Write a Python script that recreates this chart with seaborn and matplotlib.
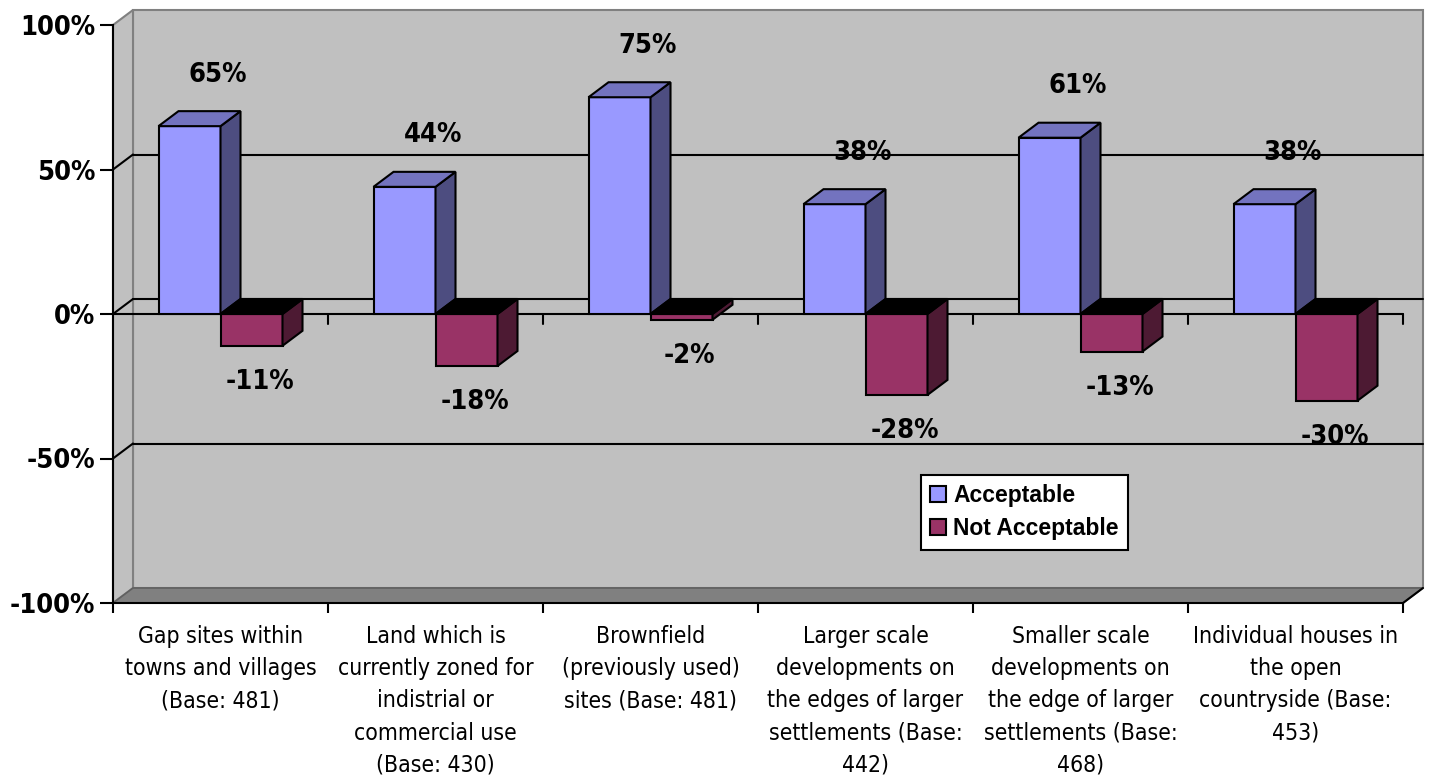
import matplotlib
matplotlib.use("Agg")
import matplotlib.pyplot as plt
from matplotlib.patches import Polygon, Patch
import seaborn as sns
import pandas as pd

categories = [
    "Gap sites within\ntowns and villages\n(Base: 481)",
    "Land which is\ncurrently zoned for\nindistrial or\ncommercial use\n(Base: 430)",
    "Brownfield\n(previously used)\nsites (Base: 481)",
    "Larger scale\ndevelopments on\nthe edges of larger\nsettlements (Base:\n442)",
    "Smaller scale\ndevelopments on\nthe edge of larger\nsettlements (Base:\n468)",
    "Individual houses in\nthe open\ncountryside (Base:\n453)",
]
acceptable = [65, 44, 75, 38, 61, 38]
not_acceptable = [-11, -18, -2, -28, -13, -30]
series_names = ["Acceptable", "Not Acceptable"]
y_ticks = [-100, -50, 0, 50, 100]

front = {"Acceptable": "#9999ff", "Not Acceptable": "#993366"}
top_col = {"Acceptable": "#7373bf", "Not Acceptable": "#000000"}
side_col = {"Acceptable": "#4d4d80", "Not Acceptable": "#4d1a33"}

df = pd.DataFrame({
    "category": categories * 2,
    "value": acceptable + not_acceptable,
    "series": [series_names[0]] * 6 + [series_names[1]] * 6,
})

sns.set_style("white")
plt.rcParams["font.family"] = ["DejaVu Sans"]
plt.rcParams["font.stretch"] = "condensed"
plt.rcParams["text.color"] = "black"
plt.rcParams["xtick.color"] = "black"
plt.rcParams["ytick.color"] = "black"
plt.rcParams["xtick.labelcolor"] = "black"
plt.rcParams["ytick.labelcolor"] = "black"

W, H = 1430, 782
fig = plt.figure(figsize=(W / 100, H / 100), dpi=100)
ax = fig.add_axes([113 / W, 1 - 603 / H, (1403 - 113) / W, (603 - 25) / H])
ax.set_facecolor("none")
ax.set_xlim(-0.5, 5.5)
ax.set_ylim(-100, 100)

# depth offset of the 3-D box (20 px right, 15 px up)
dx = 20 / 215
dy = 15 * 200 / 578
x0, x1 = -0.5, 5.5

wall_c, edge_c = "#c0c0c0", "#808080"
# back wall
ax.add_patch(Polygon([(x0 + dx, -100 + dy), (x1 + dx, -100 + dy), (x1 + dx, 100 + dy), (x0 + dx, 100 + dy)],
                     closed=True, facecolor=wall_c, edgecolor=edge_c, lw=1.5, zorder=0, clip_on=False))
# left side wall
ax.add_patch(Polygon([(x0, -100), (x0 + dx, -100 + dy), (x0 + dx, 100 + dy), (x0, 100)],
                     closed=True, facecolor=wall_c, edgecolor=edge_c, lw=1.5, zorder=0.1, clip_on=False))
# floor
ax.add_patch(Polygon([(x0, -100), (x1, -100), (x1 + dx, -100 + dy), (x0 + dx, -100 + dy)],
                     closed=True, facecolor="#808080", edgecolor="#606060", lw=1.2, zorder=0.2, clip_on=False))
ax.plot([x1, x1 + dx], [-100, -100 + dy], color="black", lw=1.5, zorder=0.3, clip_on=False)

# gridlines on back and side walls
for g in (-50, 0, 50):
    ax.plot([x0 + dx, x1 + dx], [g + dy, g + dy], color="black", lw=1.5, zorder=0.5, clip_on=False)
    ax.plot([x0, x0 + dx], [g, g + dy], color="black", lw=1.5, zorder=0.5, clip_on=False)

# category axis at zero on the front plane
ax.plot([x0, x1], [0, 0], color="black", lw=1.5, zorder=0.8, clip_on=False)
for b in range(1, 7):
    ax.plot([b - 0.5, b - 0.5], [0, -3.5], color="black", lw=1.5, zorder=0.8, clip_on=False)

sns.barplot(data=df, x="category", y="value", hue="series", order=categories,
            hue_order=series_names, palette=[front[s] for s in series_names],
            width=124 / 215, saturation=1, edgecolor="black", linewidth=1.5,
            legend=False, ax=ax, zorder=2)

bars = [p for p in ax.patches if p.get_zorder() == 2 and p.get_width() < 1]
for p in bars:
    bx0 = p.get_x()
    bx1 = bx0 + p.get_width()
    v = p.get_y() + p.get_height()
    fc = matplotlib.colors.to_hex(p.get_facecolor())
    name = "Acceptable" if fc == front["Acceptable"] else "Not Acceptable"
    lo, hi = min(0, v), max(0, v)
    ax.add_patch(Polygon([(bx1, lo), (bx1 + dx, lo + dy), (bx1 + dx, hi + dy), (bx1, hi)], closed=True,
                         facecolor=side_col[name], edgecolor="black", lw=1.5, zorder=2, clip_on=False))
    ax.add_patch(Polygon([(bx0, hi), (bx0 + dx, hi + dy), (bx1 + dx, hi + dy), (bx1, hi)], closed=True,
                         facecolor=top_col[name], edgecolor="black", lw=1.5, zorder=2, clip_on=False))
    if name == "Acceptable":
        ax.annotate(f"{v:.0f}%", (bx1, v), xytext=(-2, 37), textcoords="offset points",
                    ha="center", va="center", fontsize=19.5, fontweight="bold", zorder=5)
    else:
        ax.annotate(f"{v:.0f}%", ((bx0 + bx1) / 2, v), xytext=(6, -26), textcoords="offset points",
                    ha="center", va="center", fontsize=19.5, fontweight="bold", zorder=5)

# axes frame
for s in ("top", "right"):
    ax.spines[s].set_visible(False)
for s in ("left", "bottom"):
    ax.spines[s].set_visible(True)
    ax.spines[s].set_color("black")
    ax.spines[s].set_linewidth(1.5)
    ax.spines[s].set_zorder(3)

ax.set_yticks(y_ticks)
ax.set_yticklabels([f"{t}%" for t in y_ticks], fontsize=19.5, fontweight="bold")
ax.tick_params(axis="y", length=9.4, width=1.5, pad=3.5, color="black", left=True)
ax.set_xticks(range(6))
ax.set_xticklabels(categories, fontsize=16.5, linespacing=1.52)
ax.set_xticks([i - 0.5 for i in range(7)], minor=True)
ax.tick_params(axis="x", which="major", length=0, pad=15.5)
ax.tick_params(axis="x", which="minor", length=7, width=1.5, color="black", bottom=True)
ax.set_xlabel("")
ax.set_ylabel("")

handles = [Patch(facecolor=front[s], edgecolor="black", lw=1.5) for s in series_names]
leg = ax.legend(handles, series_names, loc="upper left", bbox_to_anchor=(921 / W, 1 - 475 / H),
                bbox_transform=fig.transFigure, frameon=True, fancybox=False, framealpha=1,
                edgecolor="black", prop={"family": "Liberation Sans", "weight": "bold", "size": 16.5,
                                         "stretch": "normal"},
                handlelength=0.7, handleheight=0.7, handletextpad=0.3, labelspacing=0.45,
                borderpad=0.4, borderaxespad=0)
leg.get_frame().set_linewidth(1.5)
leg.set_zorder(6)

fig.savefig("out.png", dpi=100, facecolor="white")
